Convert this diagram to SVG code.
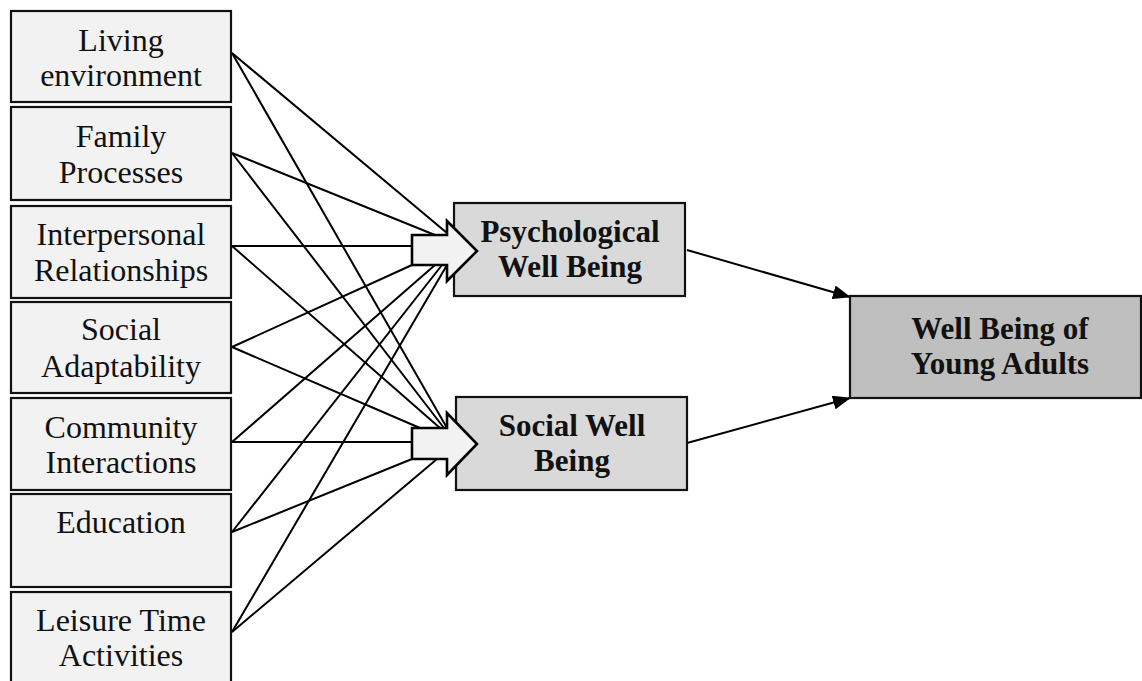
<svg xmlns="http://www.w3.org/2000/svg" width="1142" height="681" viewBox="0 0 1142 681">
<style>
.in rect{fill:#f2f2f2;stroke:#111;stroke-width:2.2}
.mid rect{fill:#d9d9d9;stroke:#111;stroke-width:2.2}
.out rect{fill:#bfbfbf;stroke:#111;stroke-width:2.2}
text{font-family:"Liberation Serif","Times New Roman",serif;fill:#111;text-anchor:middle}
.in text{font-size:32px}
.b text{font-size:31px;font-weight:bold}
.ln line{stroke:#000;stroke-width:2}
.blk{fill:#f2f2f2;stroke:#000;stroke-width:2.6;stroke-linejoin:miter}
</style>
<defs>
<marker id="ah2" markerWidth="18" markerHeight="14" refX="17" refY="7" orient="auto" markerUnits="userSpaceOnUse" viewBox="0 0 18 14">
<path d="M0,0 L18,7 L0,14 Z" fill="#000"/>
</marker>
</defs>
<rect width="1142" height="681" fill="#fff"/>
<g id="connectors" class="ln">
<line x1="232" y1="53" x2="447" y2="233"/>
<line x1="232" y1="153" x2="435" y2="235"/>
<line x1="232" y1="246" x2="412" y2="246"/>
<line x1="232" y1="347" x2="412" y2="265"/>
<line x1="232" y1="442" x2="435" y2="265"/>
<line x1="232" y1="532" x2="442" y2="265"/>
<line x1="232" y1="632" x2="447" y2="265"/>
<line x1="232" y1="53" x2="447" y2="428"/>
<line x1="232" y1="153" x2="444" y2="428"/>
<line x1="232" y1="246" x2="440" y2="428"/>
<line x1="232" y1="347" x2="420" y2="428"/>
<line x1="232" y1="442" x2="412" y2="442"/>
<line x1="232" y1="532" x2="412" y2="459"/>
<line x1="232" y1="632" x2="437" y2="459"/>
<line x1="687" y1="250" x2="850" y2="297" marker-end="url(#ah2)"/>
<line x1="687" y1="443" x2="850" y2="398" marker-end="url(#ah2)"/>
</g>
<g id="n1" class="in"><rect x="11" y="11" width="220" height="91"/><text x="121" y="51">Living</text><text x="121" y="86">environment</text></g>
<g id="n2" class="in"><rect x="11" y="107" width="220" height="93"/><text x="121" y="147">Family</text><text x="121" y="183">Processes</text></g>
<g id="n3" class="in"><rect x="11" y="206" width="220" height="92"/><text x="121" y="245">Interpersonal</text><text x="121" y="281">Relationships</text></g>
<g id="n4" class="in"><rect x="11" y="302" width="220" height="91"/><text x="121" y="340">Social</text><text x="121" y="377">Adaptability</text></g>
<g id="n5" class="in"><rect x="11" y="398" width="220" height="92"/><text x="121" y="438">Community</text><text x="121" y="473">Interactions</text></g>
<g id="n6" class="in"><rect x="11" y="494" width="220" height="93"/><text x="121" y="533">Education</text></g>
<g id="n7" class="in"><rect x="11" y="592" width="220" height="100"/><text x="121" y="631">Leisure Time</text><text x="121" y="666">Activities</text></g>
<g id="psych" class="mid b"><rect x="454" y="203" width="231" height="93"/><text x="570" y="242">Psychological</text><text x="570" y="277">Well Being</text></g>
<g id="social" class="mid b"><rect x="456" y="397" width="231" height="93"/><text x="572" y="436">Social Well</text><text x="572" y="471">Being</text></g>
<g id="outcome" class="out b"><rect x="850" y="296" width="291" height="102"/><text x="1000" y="339">Well Being of</text><text x="1000" y="374">Young Adults</text></g>
<g id="block-arrows">
<path class="blk" d="M412,235 L447,235 L447,221 L477,251 L447,281 L447,265 L412,265 Z"/>
<path class="blk" d="M412,428 L447,428 L447,413 L477,444 L447,475 L447,459 L412,459 Z"/>
</g>
</svg>
